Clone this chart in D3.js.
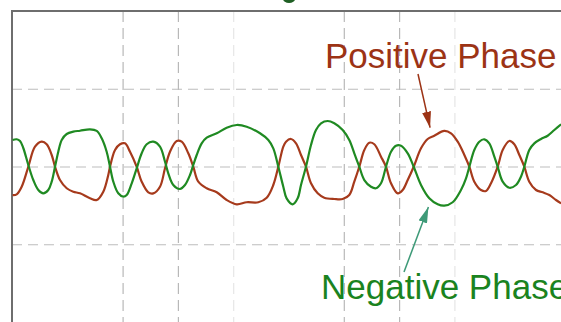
<!DOCTYPE html>
<html>
<head>
<meta charset="utf-8">
<script src="https://cdn.jsdelivr.net/npm/d3@7"></script>
<style>
  html, body { margin: 0; padding: 0; background: #fff; }
  svg { display: block; }
  text { font-family: "Liberation Sans", Arial, sans-serif; }
</style>
</head>
<body>
<svg id="scope" width="561" height="322"></svg>
<script>
// Differential pair on the scope: time in divisions, amplitude in divisions
const posTime = [0.01,0.085,0.175,0.295,0.416,0.537,0.627,0.718,0.778,0.868,0.989,1.108,1.23,1.41,1.532,1.651,1.741,1.772,1.863,1.953,2.043,2.134,2.255,2.345,2.465,2.555,2.676,2.767,2.857,2.978,3.069,3.188,3.278,3.369,3.521,3.702,3.882,4.063,4.244,4.454,4.606,4.725,4.816,4.906,4.955,5.045,5.136,5.226,5.316,5.407,5.528,5.647,5.828,5.98,6.099,6.19,6.28,6.371,6.461,6.552,6.673,6.763,6.854,6.975,7.065,7.156,7.264,7.396,7.517,7.636,7.817,7.939,8.06,8.18,8.27,8.36,8.481,8.571,8.662,8.783,8.873,8.993,9.083,9.174,9.264,9.354,9.476,9.597,9.717,9.837,9.93];
const posAmp  = [-0.367,-0.358,-0.26,-0.003,0.255,0.319,0.286,0.148,-0.003,-0.174,-0.28,-0.324,-0.345,-0.409,-0.431,-0.324,-0.109,-0.003,0.212,0.286,0.298,0.19,-0.003,-0.195,-0.332,-0.345,-0.26,-0.023,0.19,0.328,0.319,0.17,-0.003,-0.195,-0.28,-0.332,-0.431,-0.486,-0.46,-0.46,-0.401,-0.238,-0.003,0.255,0.319,0.354,0.298,0.148,-0.003,-0.216,-0.345,-0.401,-0.418,-0.418,-0.367,-0.195,-0.003,0.212,0.306,0.286,0.126,-0.003,-0.216,-0.345,-0.302,-0.174,-0.003,0.234,0.354,0.396,0.457,0.427,0.319,0.148,-0.003,-0.195,-0.302,-0.315,-0.216,-0.003,0.212,0.328,0.286,0.148,-0.003,-0.195,-0.302,-0.332,-0.367,-0.431,-0.473];

const negTime = [0.01,0.085,0.145,0.204,0.295,0.385,0.476,0.566,0.656,0.718,0.778,0.837,0.899,0.989,1.108,1.23,1.41,1.532,1.622,1.712,1.772,1.832,1.922,2.013,2.074,2.165,2.255,2.345,2.436,2.555,2.676,2.767,2.826,2.917,3.038,3.128,3.219,3.278,3.34,3.43,3.521,3.702,3.882,4.063,4.244,4.485,4.635,4.725,4.816,4.906,4.966,5.076,5.166,5.226,5.316,5.407,5.497,5.588,5.709,5.828,5.98,6.099,6.19,6.28,6.371,6.492,6.582,6.673,6.763,6.854,6.944,7.034,7.156,7.264,7.396,7.546,7.698,7.817,7.969,8.119,8.21,8.27,8.36,8.45,8.541,8.631,8.722,8.783,8.873,8.993,9.114,9.204,9.264,9.354,9.445,9.566,9.687,9.807,9.93];
const negAmp  = [0.341,0.35,0.328,0.238,0.019,-0.174,-0.302,-0.345,-0.302,-0.195,-0.003,0.19,0.341,0.418,0.448,0.46,0.478,0.457,0.363,0.19,-0.003,-0.195,-0.345,-0.388,-0.367,-0.216,-0.023,0.17,0.286,0.319,0.255,0.062,-0.087,-0.238,-0.289,-0.238,-0.109,0.019,0.148,0.298,0.37,0.427,0.499,0.534,0.512,0.427,0.341,0.234,-0.003,-0.26,-0.41,-0.486,-0.409,-0.238,-0.003,0.277,0.469,0.556,0.585,0.556,0.469,0.341,0.17,-0.003,-0.174,-0.26,-0.28,-0.216,-0.003,0.19,0.268,0.268,0.17,-0.003,-0.238,-0.409,-0.486,-0.504,-0.46,-0.302,-0.152,-0.003,0.212,0.319,0.35,0.298,0.126,-0.003,-0.195,-0.273,-0.238,-0.131,-0.003,0.212,0.298,0.354,0.396,0.469,0.543];

// Graticule divisions that carry dashed lines
const gridTimes = [2, 3, 4, 6, 7, 8];
const faintTimes = [4, 8];
const gridAmps = [1, 0, -1];

const labels = ["Positive Phase", "Negative Phase"];

const svg = d3.select("#scope");
const x = d3.scaleLinear().domain([0, 10]).range([12, 565]);
const y = d3.scaleLinear().domain([-2, 2]).range([322, 11]);

// dashed graticule
const grid = svg.append("g");
grid.append("g")
  .call(d3.axisBottom(x).tickValues(gridTimes).tickSize(y(-2) - y(2)).tickFormat(""))
  .attr("transform", `translate(0,${y(2)})`)
  .call(g => g.select(".domain").remove())
  .call(g => g.selectAll(".tick line")
    .attr("stroke", d => faintTimes.includes(d) ? "#e6e6e6" : "#b8b8b8")
    .attr("stroke-width", 1.2)
    .attr("stroke-dasharray", "11,6"));
grid.append("g")
  .call(d3.axisLeft(y).tickValues(gridAmps).tickSize(-(x(10) - x(0))).tickFormat(""))
  .attr("transform", `translate(${x(0)},0)`)
  .call(g => g.select(".domain").remove())
  .call(g => g.selectAll(".tick line")
    .attr("stroke", "#bdbdbd")
    .attr("stroke-width", 1.2)
    .attr("stroke-dasharray", "10,6"));

// frame (left and top edges)
svg.append("path")
  .attr("d", `M${x(0)},${y(-2)}V${y(2)}H${x(10)}`)
  .attr("fill", "none")
  .attr("stroke", "#6e6e6e")
  .attr("stroke-width", 2);

// trigger marker on the top edge
svg.append("ellipse")
  .attr("cx", x(5.01)).attr("cy", -1).attr("rx", 6).attr("ry", 4)
  .attr("fill", "#1f5f24");

const line = d3.line()
  .x(d => x(d[0]))
  .y(d => y(d[1]))
  .curve(d3.curveCatmullRom.alpha(0.5));

const posData = d3.zip(posTime, posAmp);
const negData = d3.zip(negTime, negAmp);

svg.append("path").datum(posData)
  .attr("d", line)
  .attr("fill", "none")
  .attr("stroke", "#a63a1c")
  .attr("stroke-width", 2.2)
  .attr("stroke-linejoin", "round");

svg.append("path").datum(negData)
  .attr("d", line)
  .attr("fill", "none")
  .attr("stroke", "#1f8a22")
  .attr("stroke-width", 2.2)
  .attr("stroke-linejoin", "round");

// arrowheads
const defs = svg.append("defs");
function marker(id, color) {
  defs.append("marker")
    .attr("id", id)
    .attr("viewBox", "0 0 16 9")
    .attr("refX", 16).attr("refY", 4.5)
    .attr("markerWidth", 16).attr("markerHeight", 9)
    .attr("markerUnits", "userSpaceOnUse")
    .attr("orient", "auto")
    .append("path")
    .attr("d", "M0,0L16,4.5L0,9Z")
    .attr("fill", color);
}
marker("arrowPos", "#9c3315");
marker("arrowNeg", "#3e9a78");

// annotation arrows pointing at the traces
svg.append("line")
  .attr("x1", 418).attr("y1", 74)
  .attr("x2", x(7.56)).attr("y2", y(0.5))
  .attr("stroke", "#9c3315").attr("stroke-width", 1.5)
  .attr("marker-end", "url(#arrowPos)");

svg.append("line")
  .attr("x1", 404).attr("y1", 272)
  .attr("x2", x(7.53)).attr("y2", y(-0.52))
  .attr("stroke", "#3e9a78").attr("stroke-width", 1.5)
  .attr("marker-end", "url(#arrowNeg)");

svg.append("text")
  .attr("x", 325).attr("y", 68)
  .attr("font-size", 35)
  .attr("fill", "#9c3315")
  .text(labels[0]);

// this label runs past the right edge of the frame
svg.append("text")
  .attr("x", 321).attr("y", 299)
  .attr("font-size", 35)
  .attr("fill", "#1a8320")
  .text(labels[1]);
</script>
</body>
</html>
